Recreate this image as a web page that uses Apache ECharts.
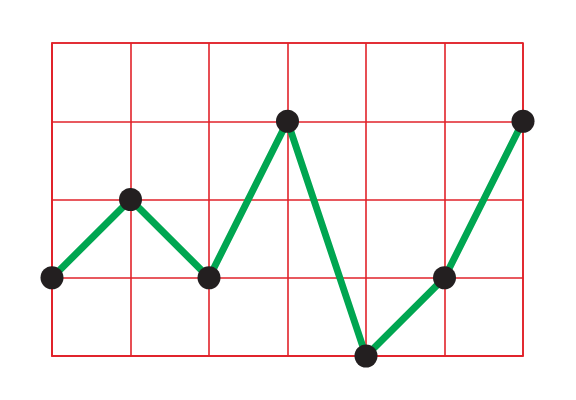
<!DOCTYPE html>
<html><head><meta charset="utf-8">
<script src="https://cdn.jsdelivr.net/npm/echarts@6/dist/echarts.min.js"></script>
<style>html,body{margin:0;padding:0;background:#fff}#c{width:576px;height:400px}</style>
</head><body><div id="c"></div>
<script>
const categories = ['1','2','3','4','5','6','7'];
const values = [1, 2, 1, 3, 0, 1, 3];
const yTicks = [0, 1, 2, 3, 4];

const chart = echarts.init(document.getElementById('c'), null, {renderer:'canvas'});
const red = '#e1222a';
chart.setOption({
  animation: false,
  grid: {left: 52, right: 53, top: 43, bottom: 44, show: true, borderColor: red, borderWidth: 1.6},
  xAxis: {
    type: 'category', data: categories, boundaryGap: false,
    axisLine: {show: true, lineStyle: {color: red, width: 1.6}},
    axisTick: {show: false}, axisLabel: {show: false},
    splitLine: {show: true, lineStyle: {color: red, width: 1.6}}
  },
  yAxis: {
    type: 'value', min: yTicks[0], max: yTicks[yTicks.length-1], interval: 1,
    axisLine: {show: true, lineStyle: {color: red, width: 1.6}},
    axisTick: {show: false}, axisLabel: {show: false},
    splitLine: {show: true, lineStyle: {color: red, width: 1.6}}
  },
  series: [{
    type: 'line', data: values,
    lineStyle: {color: '#00a651', width: 7},
    symbol: 'circle', symbolSize: 23,
    itemStyle: {color: '#231f20', borderWidth: 0},
    clip: false
  }]
});
</script></body></html>
